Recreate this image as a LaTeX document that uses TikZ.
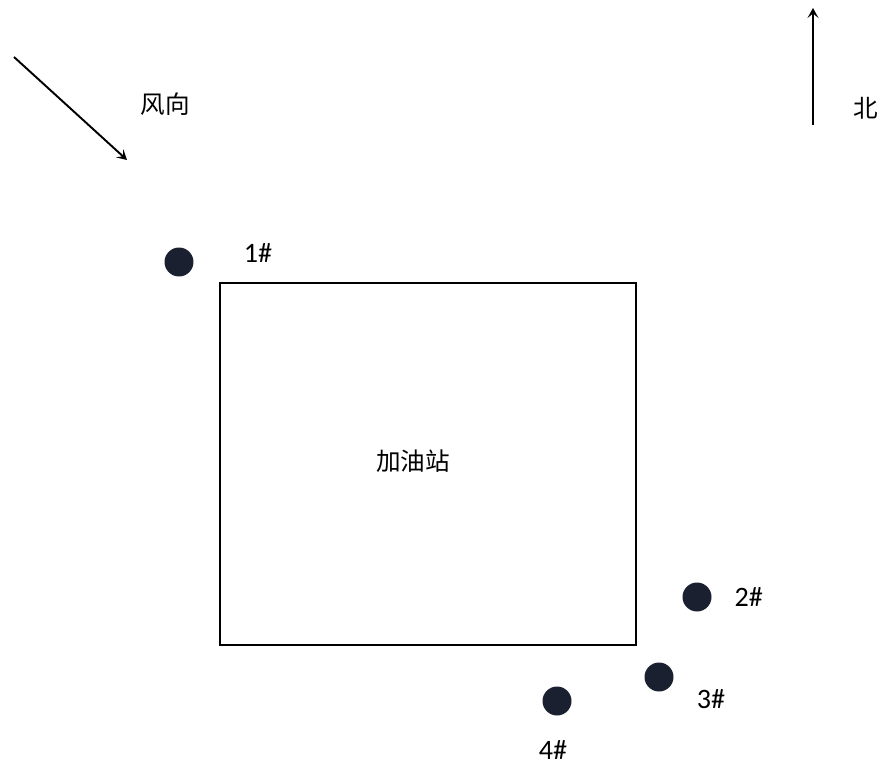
\documentclass[tikz,border=0pt]{standalone}
\usepackage{fontspec}
\setsansfont{Carlito}
\newfontfamily\cjk{Noto Sans CJK SC}
\usetikzlibrary{arrows.meta,positioning}
\definecolor{dotnavy}{HTML}{1B2030}
\begin{document}
\begin{tikzpicture}[x=0.02cm,y=-0.02cm,
  well/.style={circle, fill=dotnavy, minimum size=0.58cm, inner sep=0pt},
  site/.style={rectangle, draw=black, line width=1.1pt, minimum width=8.32cm,
               minimum height=7.24cm, inner sep=0pt},
  tag/.style={font=\sffamily\fontsize{16}{18}\selectfont, inner sep=0pt},
  cn/.style={font=\cjk\fontsize{14}{16}\selectfont, inner sep=0pt},
  dir/.style={-{Stealth[length=2mm,width=2.2mm,inset=0.9mm]}, line width=1.1pt}
]
  \useasboundingbox (0,0) rectangle (889,770);

  % wind and north
  \coordinate (windtail) at (14,57);
  \coordinate (windhead) at (127,160);
  \draw[dir] (windtail) -- (windhead);
  \node[cn] (wind) at (165,104) {风向};
  \coordinate (northtail) at (813,125);
  \coordinate (northhead) at (813,8);
  \draw[dir] (northtail) -- (northhead);
  \node[cn] (north) at (866,108) {北};

  % station
  \node[site] (station) at (428,464) {};
  \node[cn] (stationname) at (413,461) {加油站};

  % sampling points
  \node[well] (p1) at (179,262) {};
  \node[well] (p2) at (697,597) {};
  \node[well] (p3) at (659,677) {};
  \node[well] (p4) at (557,701) {};
  \node[tag] (l1) at (258,253) {1\#};
  \node[tag,right=0.45cm of p2] (l2) {2\#};
  \node[tag] (l3) at (711,699) {3\#};
  \node[tag] (l4) at (553,750) {4\#};
\end{tikzpicture}
\end{document}
